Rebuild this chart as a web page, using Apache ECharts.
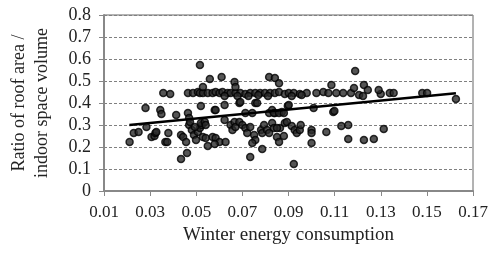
<!DOCTYPE html>
<html>
<head>
<meta charset="utf-8">
<script src="https://cdn.jsdelivr.net/npm/echarts@6/dist/echarts.min.js"></script>
<style>
  html, body { margin: 0; padding: 0; background: #fff; }
  #myChart { width: 491px; height: 253px; }
</style>
</head>
<body>
<div id="myChart"></div>
<script>
// tick labels
var xTicks = [0.01, 0.03, 0.05, 0.07, 0.09, 0.11, 0.13, 0.15, 0.17];
var yTicks = [0, 0.1, 0.2, 0.3, 0.4, 0.5, 0.6, 0.7, 0.8];

// winter energy consumption vs roof area / indoor volume
var upperBand = [
  [0.0357, 0.445], [0.0387, 0.441], [0.0464, 0.445], [0.0486, 0.445], [0.0507, 0.45],
  [0.0516, 0.445], [0.0529, 0.445], [0.055, 0.445], [0.0571, 0.445], [0.0584, 0.45],
  [0.0601, 0.445], [0.0614, 0.45], [0.0636, 0.445], [0.0649, 0.445], [0.067, 0.445],
  [0.0691, 0.445], [0.0713, 0.441], [0.0734, 0.445], [0.0756, 0.445], [0.0777, 0.445],
  [0.0798, 0.445], [0.082, 0.445], [0.0841, 0.445], [0.0859, 0.45], [0.0884, 0.441],
  [0.0901, 0.445], [0.0923, 0.445], [0.0949, 0.441], [0.0979, 0.445], [0.1021, 0.445],
  [0.1051, 0.45], [0.1073, 0.445], [0.1107, 0.445], [0.1137, 0.445], [0.1171, 0.445],
  [0.1206, 0.436], [0.13, 0.441], [0.1339, 0.445], [0.1356, 0.445], [0.148, 0.445],
  [0.1501, 0.445], [0.0623, 0.432], [0.0679, 0.432], [0.0726, 0.432], [0.0769, 0.436],
  [0.0811, 0.432], [0.0914, 0.432], [0.0957, 0.436]
];
var highPoints = [
  [0.0516, 0.573], [0.0529, 0.473], [0.0559, 0.509], [0.061, 0.518], [0.0666, 0.495],
  [0.067, 0.473], [0.0816, 0.518], [0.0841, 0.514], [0.0859, 0.49], [0.1086, 0.482],
  [0.1189, 0.545], [0.1184, 0.468], [0.1227, 0.482], [0.1244, 0.459], [0.1291, 0.459],
  [0.1223, 0.432], [0.1626, 0.418]
];
var midPoints = [
  [0.028, 0.377], [0.0344, 0.368], [0.0349, 0.35], [0.0413, 0.345], [0.0464, 0.355],
  [0.0469, 0.332], [0.052, 0.386], [0.058, 0.368], [0.0584, 0.368], [0.0623, 0.391],
  [0.0687, 0.4], [0.0691, 0.405], [0.0756, 0.4], [0.0764, 0.4], [0.0713, 0.355],
  [0.0743, 0.355], [0.0816, 0.355], [0.0841, 0.355], [0.0871, 0.359], [0.0897, 0.386],
  [0.0901, 0.391], [0.1009, 0.377], [0.1094, 0.359], [0.1099, 0.364], [0.0829, 0.368],
  [0.0837, 0.355], [0.0859, 0.355], [0.088, 0.355]
];
var lowerCluster = [
  [0.0211, 0.223], [0.0229, 0.264], [0.025, 0.268], [0.0284, 0.291], [0.0306, 0.245],
  [0.0319, 0.25], [0.0323, 0.264], [0.0327, 0.268], [0.0366, 0.223], [0.0374, 0.223],
  [0.0379, 0.264], [0.0434, 0.255], [0.0443, 0.245], [0.0456, 0.223], [0.0469, 0.3],
  [0.0473, 0.314], [0.0481, 0.277], [0.049, 0.255], [0.0499, 0.232], [0.0507, 0.268],
  [0.0516, 0.286], [0.0524, 0.3], [0.0494, 0.291], [0.052, 0.309], [0.0537, 0.314],
  [0.0541, 0.3], [0.0529, 0.245], [0.0541, 0.241], [0.0571, 0.245], [0.0584, 0.241],
  [0.0601, 0.223], [0.0627, 0.223], [0.0623, 0.323], [0.055, 0.205], [0.058, 0.214],
  [0.0649, 0.3], [0.0657, 0.277], [0.0666, 0.314], [0.067, 0.291], [0.0687, 0.314],
  [0.07, 0.3], [0.0713, 0.286], [0.0721, 0.264], [0.0734, 0.291], [0.0751, 0.255],
  [0.0756, 0.232], [0.0743, 0.218], [0.0781, 0.277], [0.0786, 0.264], [0.0794, 0.3],
  [0.0807, 0.277], [0.0816, 0.264], [0.0829, 0.309], [0.085, 0.245], [0.0859, 0.223],
  [0.0863, 0.286], [0.0837, 0.286], [0.085, 0.286], [0.088, 0.25], [0.0884, 0.309],
  [0.0893, 0.314], [0.0914, 0.295], [0.0927, 0.277], [0.0936, 0.264], [0.0949, 0.277],
  [0.0953, 0.3], [0.1, 0.277], [0.1, 0.264], [0.1, 0.218], [0.1064, 0.268],
  [0.1129, 0.295], [0.1159, 0.3], [0.1159, 0.236], [0.1227, 0.232], [0.127, 0.236],
  [0.1313, 0.282]
];
var lowOutliers = [
  [0.046, 0.173], [0.0434, 0.145], [0.0734, 0.155], [0.0786, 0.191], [0.0923, 0.123]
];
// linear trend line end points
var trendLine = [[0.021, 0.3], [0.1626, 0.444]];

var chart = echarts.init(document.getElementById('myChart'));

var dotStyle = {
  color: '#2a2a2a',
  borderColor: '#000',
  borderWidth: 1.5
};
function scatterSeries(data) {
  return {
    type: 'scatter',
    data: data,
    symbol: 'circle',
    symbolSize: 7,
    itemStyle: dotStyle,
    silent: true
  };
}

var option = {
  animation: false,
  backgroundColor: '#fff',
  textStyle: { fontFamily: 'Liberation Serif', color: '#222' },
  grid: {
    left: 100, right: 18, top: 15, bottom: 62,
    show: true,
    borderColor: '#666',
    borderWidth: 1
  },
  xAxis: {
    type: 'value',
    min: 0.01,
    max: 0.17,
    name: 'Winter energy consumption',
    nameLocation: 'middle',
    nameGap: 32,
    nameTextStyle: { fontFamily: 'Liberation Serif', fontSize: 19, color: '#222' },
    axisLine: { lineStyle: { color: '#888', width: 2 } },
    axisTick: {
      customValues: xTicks,
      length: 5,
      lineStyle: { color: '#888' }
    },
    axisLabel: {
      customValues: xTicks,
      fontFamily: 'Liberation Serif',
      fontSize: 17,
      color: '#222',
      margin: 13,
      formatter: function (v) { return v.toFixed(2); }
    },
    splitLine: { show: false }
  },
  yAxis: {
    type: 'value',
    min: 0,
    max: 0.8,
    interval: 0.1,
    name: 'Ratio of roof area /\nindoor space volume',
    nameLocation: 'middle',
    nameRotate: 90,
    nameGap: 50,
    nameTextStyle: { fontFamily: 'Liberation Serif', fontSize: 18, color: '#222', lineHeight: 23 },
    axisLine: { show: true, lineStyle: { color: '#888', width: 2 } },
    axisTick: { show: true, length: 5, lineStyle: { color: '#888' } },
    axisLabel: {
      fontFamily: 'Liberation Serif',
      fontSize: 18,
      color: '#222',
      margin: 13,
      formatter: function (v) {
        var hit = yTicks.filter(function (t) { return Math.abs(t - v) < 1e-6; });
        return hit.length ? String(hit[0]) : '';
      }
    },
    splitLine: { show: true, lineStyle: { color: '#808080', type: [3, 2], width: 1 } }
  },
  series: [
    scatterSeries(upperBand),
    scatterSeries(highPoints),
    scatterSeries(midPoints),
    scatterSeries(lowerCluster),
    scatterSeries(lowOutliers),
    {
      type: 'line',
      data: trendLine,
      symbol: 'none',
      lineStyle: { color: '#000', width: 2.5 },
      silent: true,
      z: 5
    }
  ]
};
chart.setOption(option);
</script>
</body>
</html>
